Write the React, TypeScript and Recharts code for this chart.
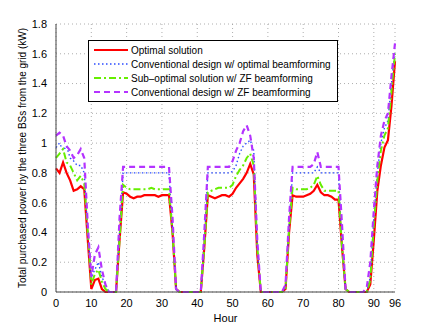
import { LineChart, Line, XAxis, YAxis, CartesianGrid } from 'recharts'

// time slots 0..96
const HOURS = Array.from({ length: 97 }, (_, i) => i)

// Optimal solution
const OPTIMAL = [
  0.83, 0.8, 0.87, 0.8, 0.75, 0.68, 0.69, 0.71, 0.69, 0.35, 0.02, 0.08, 0.09, 0.02, 0, 0, 0, 0, 0.35,
  0.67, 0.66, 0.64, 0.63, 0.64, 0.64, 0.65, 0.65, 0.65, 0.65, 0.64, 0.65, 0.65, 0.65, 0.4, 0.02, 0, 0,
  0, 0, 0, 0, 0, 0.3, 0.65, 0.64, 0.63, 0.64, 0.65, 0.65, 0.64, 0.66, 0.7, 0.73, 0.76, 0.8, 0.86, 0.79,
  0.25, 0, 0, 0, 0, 0, 0, 0, 0.02, 0.4, 0.65, 0.64, 0.64, 0.64, 0.65, 0.66, 0.68, 0.72, 0.67, 0.65, 0.65,
  0.64, 0.62, 0.62, 0.3, 0.02, 0, 0, 0, 0, 0, 0, 0.05, 0.35, 0.68, 0.85, 0.97, 1.02, 1.25, 1.55,
]

// Conventional design w/ optimal beamforming
const CONV_OPT = [
  0.97, 1.0, 0.95, 0.98, 0.9, 0.88, 0.85, 0.85, 0.8, 0.4, 0.1, 0.15, 0.2, 0.1, 0.05, 0, 0, 0, 0.4,
  0.8, 0.8, 0.8, 0.8, 0.8, 0.8, 0.8, 0.8, 0.8, 0.8, 0.8, 0.8, 0.8, 0.8, 0.4, 0.02, 0, 0, 0, 0, 0, 0,
  0, 0.35, 0.8, 0.8, 0.8, 0.8, 0.8, 0.8, 0.8, 0.81, 0.85, 0.93, 0.98, 1.0, 1.02, 0.95, 0.3, 0, 0, 0, 0,
  0, 0, 0, 0.03, 0.45, 0.8, 0.8, 0.8, 0.8, 0.8, 0.8, 0.8, 0.84, 0.8, 0.8, 0.8, 0.8, 0.8, 0.8, 0.3, 0.02,
  0, 0, 0, 0, 0, 0, 0.1, 0.5, 0.8, 1.0, 1.1, 1.15, 1.4, 1.62,
]

// Sub-optimal solution w/ ZF beamforming
const SUB_ZF = [
  0.9, 0.93, 0.96, 0.87, 0.85, 0.8, 0.75, 0.78, 0.73, 0.4, 0.05, 0.12, 0.15, 0.07, 0.02, 0, 0, 0, 0.35,
  0.72, 0.7, 0.69, 0.69, 0.69, 0.69, 0.69, 0.69, 0.7, 0.69, 0.69, 0.69, 0.69, 0.69, 0.4, 0.02, 0, 0, 0,
  0, 0, 0, 0, 0.3, 0.67, 0.68, 0.69, 0.7, 0.7, 0.7, 0.7, 0.72, 0.78, 0.82, 0.85, 0.9, 0.93, 0.85, 0.3,
  0, 0, 0, 0, 0, 0, 0, 0.02, 0.42, 0.7, 0.69, 0.69, 0.69, 0.69, 0.7, 0.72, 0.78, 0.72, 0.68, 0.68, 0.68,
  0.68, 0.68, 0.3, 0.02, 0, 0, 0, 0, 0, 0, 0.08, 0.45, 0.75, 0.95, 1.05, 1.1, 1.35, 1.6,
]

// Conventional design w/ ZF beamforming
const CONV_ZF = [
  1.05, 1.07, 1.05, 0.98, 0.95, 0.9, 0.92, 0.96, 0.9, 0.45, 0.1, 0.25, 0.3, 0.15, 0.05, 0, 0, 0, 0.5,
  0.84, 0.84, 0.84, 0.84, 0.84, 0.84, 0.84, 0.84, 0.84, 0.84, 0.84, 0.84, 0.84, 0.84, 0.5, 0.02, 0, 0,
  0, 0, 0, 0, 0, 0.4, 0.84, 0.84, 0.84, 0.84, 0.84, 0.84, 0.84, 0.88, 0.95, 1.0, 1.08, 1.12, 1.05, 0.9,
  0.35, 0, 0, 0, 0, 0, 0, 0, 0.05, 0.5, 0.84, 0.84, 0.84, 0.84, 0.84, 0.84, 0.86, 0.94, 0.84, 0.84,
  0.84, 0.84, 0.84, 0.84, 0.45, 0.02, 0, 0, 0, 0, 0, 0.03, 0.2, 0.55, 0.85, 1.05, 1.15, 1.2, 1.45, 1.67,
]

const X_TICKS = [0, 10, 20, 30, 40, 50, 60, 70, 80, 90, 96]
const Y_TICKS = [0, 0.2, 0.4, 0.6, 0.8, 1, 1.2, 1.4, 1.6, 1.8]

const SERIES = [
  { key: 'opt', name: 'Optimal solution', color: '#ff0000', width: 2.2, dash: undefined },
  { key: 'convOpt', name: 'Conventional design w/ optimal beamforming', color: '#2a4bff', width: 1.4, dash: '1.5 2.5' },
  { key: 'subZf', name: 'Sub\u2013optimal solution w/ ZF beamforming', color: '#66ee00', width: 2, dash: '7 3 2 3' },
  { key: 'convZf', name: 'Conventional design w/ ZF beamforming', color: '#b433ff', width: 2.2, dash: '6 4' },
]

const data = HOURS.map((h, i) => ({
  hour: h,
  opt: OPTIMAL[i],
  convOpt: CONV_OPT[i],
  subZf: SUB_ZF[i],
  convZf: CONV_ZF[i],
}))

const FONT = 'Liberation Sans, Arial, sans-serif'

// legend drawn as an overlay so it doesn't eat into the plot area
function LegendBox() {
  return (
    <div
      style={{
        position: 'absolute',
        left: 88,
        top: 40,
        width: 250,
        height: 62,
        border: '1px solid #000',
        background: '#fff',
        paddingTop: 2,
        boxSizing: 'border-box',
        fontFamily: FONT,
        fontSize: 10,
        color: '#000',
      }}
    >
      {SERIES.map((s) => (
        <div key={s.key} style={{ display: 'flex', alignItems: 'center', height: 14, whiteSpace: 'nowrap' }}>
          <svg width={36} height={10} style={{ marginLeft: 5, flex: 'none' }}>
            <line
              x1={0}
              y1={5}
              x2={34}
              y2={5}
              stroke={s.color}
              strokeWidth={s.width}
              strokeDasharray={s.dash}
            />
          </svg>
          <span style={{ marginLeft: 1 }}>{s.name}</span>
        </div>
      ))}
    </div>
  )
}

export default function App() {
  return (
    <div style={{ position: 'absolute', left: 0, top: 0, width: 436, height: 328, background: '#fff' }}>
      <LineChart
        width={436}
        height={328}
        data={data}
        margin={{ top: 24, right: 41, bottom: 0, left: 0 }}
      >
        <CartesianGrid stroke="#999" strokeDasharray="1 3" strokeWidth={0.8} />
        <XAxis
          dataKey="hour"
          type="number"
          domain={[0, 96]}
          ticks={X_TICKS}
          height={36}
          stroke="#444"
          tickLine={false}
          tickMargin={1}
          tick={{ fontSize: 11, fill: '#000', fontFamily: FONT }}
          label={{ value: 'Hour', position: 'insideBottom', offset: 6, fontSize: 11, fill: '#000', fontFamily: FONT }}
        />
        <XAxis xAxisId="top" orientation="top" dataKey="hour" type="number" domain={[0, 96]} ticks={X_TICKS} height={0} tick={false} tickLine={false} stroke="#444" />
        <YAxis
          type="number"
          domain={[0, 1.8]}
          ticks={Y_TICKS}
          width={56}
          stroke="#444"
          tickLine={false}
          tickMargin={3}
          tick={{ fontSize: 11, fill: '#000', fontFamily: FONT }}
          label={{
            value: 'Total purchased power by the three BSs from the grid (kW)',
            angle: -90,
            position: 'insideLeft',
            offset: 22,
            style: { textAnchor: 'middle', fontSize: 10, fill: '#000', fontFamily: FONT },
          }}
        />
        <YAxis yAxisId="right" orientation="right" domain={[0, 1.8]} width={0} tick={false} tickLine={false} stroke="#444" />
        {SERIES.map((s) => (
          <Line
            key={s.key}
            dataKey={s.key}
            name={s.name}
            stroke={s.color}
            strokeWidth={s.width}
            strokeDasharray={s.dash}
            dot={false}
            type="linear"
            isAnimationActive={false}
          />
        ))}
      </LineChart>
      <LegendBox />
    </div>
  )
}
